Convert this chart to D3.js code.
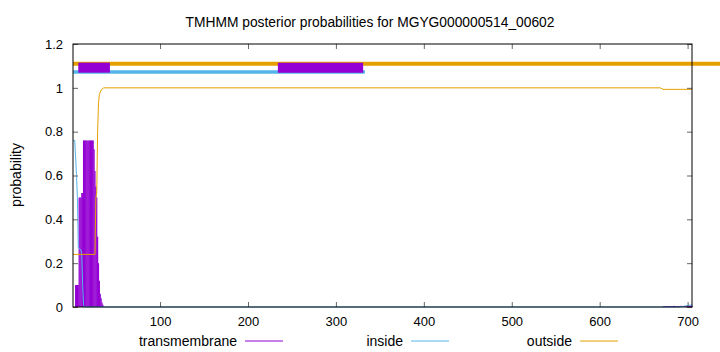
<!DOCTYPE html>
<html>
<head>
<meta charset="utf-8">
<script src="https://cdn.jsdelivr.net/npm/d3@7"></script>
<style>
  body { margin: 0; background: #fff; }
  svg text { font-family: "Liberation Sans", Arial, sans-serif; fill: #000; }
</style>
</head>
<body>
<div id="chart"></div>
<script>
// Canvas + plot box (gnuplot style)
const WIDTH = 720;
const HEIGHT = 352;
const PLOT = {left: 73, right: 692, top: 44, bottom: 307};
const FONT_SIZE = 13;
const LABEL_SIZE = 14;

const COLOUR_TM = "#9400d3";
const COLOUR_IN = "#56b4e9";
const COLOUR_OUT = "#e69f00";

// Data
const TITLE = "TMHMM posterior probabilities for MGYG000000514_00602";
const SEQ_LENGTH = 705;
const X_TICKS = [100, 200, 300, 400, 500, 600, 700];
const Y_TICKS = [0, 0.2, 0.4, 0.6, 0.8, 1, 1.2];

// transmembrane prob per residue, residues 1..36
const tmHead = [0, 0, 0, 0.1, 0.1, 0.1, 0.1, 0.5, 0.5, 0.5, 0.52, 0.52,
                0.76, 0.76, 0.76, 0.76, 0.76, 0.76, 0.76, 0.76, 0.76, 0.76, 0.76, 0.76,
                0.72, 0.62, 0.55, 0.5, 0.32, 0.2, 0.12, 0.06, 0.04, 0.02, 0.01, 0];
// small tail near the C-terminus, residues 672..705
const tmTailStart = 672;
const tmTail = [0.002, 0.003, 0.003, 0.004, 0.004, 0.004, 0.004, 0.005, 0.005, 0.005,
                0.005, 0.005, 0.005, 0.005, 0.005, 0.005, 0.005, 0.005, 0.005, 0.005,
                0.005, 0.005, 0.005, 0.005, 0.005, 0.005, 0.005, 0.006, 0.006, 0.006,
                0.006, 0.006, 0.006, 0.006];

// inside / outside as [residue, prob] points
const insideProb = [[1, 0.76], [3, 0.76], [4, 0.68], [5, 0.6], [6, 0.5], [7, 0.27],
                    [10, 0.26], [11, 0.24], [12, 0.1], [13, 0.01], [14, 0],
                    [690, 0], [698, 0.005], [705, 0.01]];
const outsideProb = [[1, 0.24], [26, 0.24], [27, 0.5], [28, 0.52], [29, 0.8], [30, 0.93],
                     [31, 0.97], [33, 0.99], [36, 1], [669, 1], [672, 0.993], [705, 0.993]];

// predicted topology bars along the top: [start, end]
const outsideBar = [1, 740];
const insideBar = [1, 333];
const tmBars = [[7, 43], [234, 331]];

const LEGEND = ["transmembrane", "inside", "outside"];
const LEGEND_COLOURS = [COLOUR_TM, COLOUR_IN, COLOUR_OUT];

// Scales
let x = d3.scaleLinear().domain([1, SEQ_LENGTH]).range([PLOT.left, PLOT.right]);
let y = d3.scaleLinear().domain([0, 1.2]).range([PLOT.bottom, PLOT.top]);

let svg = d3.select("#chart")
            .append("svg")
            .attr("width", WIDTH)
            .attr("height", HEIGHT);

// Title + y label
svg.append("text")
    .attr("x", 370)
    .attr("y", 27)
    .attr("text-anchor", "middle")
    .style("font-size", "13.8px")
    .text(TITLE);

svg.append("text")
    .attr("transform", "translate(21, 175) rotate(-90)")
    .attr("text-anchor", "middle")
    .style("font-size", LABEL_SIZE + "px")
    .text("probability");

// Transmembrane impulses
let tmPoints = tmHead.map((v, i) => [i + 1, v])
                     .concat(tmTail.map((v, i) => [tmTailStart + i, v]));

svg.append("g")
    .selectAll("line")
    .data(tmPoints.filter(d => d[1] > 0))
    .join("line")
    .attr("x1", d => x(d[0]))
    .attr("x2", d => x(d[0]))
    .attr("y1", y(0))
    .attr("y2", d => y(d[1]))
    .attr("stroke", COLOUR_TM)
    .attr("stroke-width", 1.2);

// Inside + outside lines
let line = d3.line().x(d => x(d[0])).y(d => y(d[1]));

svg.append("path")
    .datum(insideProb)
    .attr("fill", "none")
    .attr("stroke", COLOUR_IN)
    .attr("stroke-width", 1)
    .attr("d", line);

svg.append("path")
    .datum(outsideProb)
    .attr("fill", "none")
    .attr("stroke", COLOUR_OUT)
    .attr("stroke-width", 1)
    .attr("d", line);

// Topology bars at the top (orange runs past the border, like the original)
svg.append("line")
    .attr("x1", x(outsideBar[0])).attr("x2", x(outsideBar[1]))
    .attr("y1", y(1.11)).attr("y2", y(1.11))
    .attr("stroke", COLOUR_OUT)
    .attr("stroke-width", 4);

svg.append("line")
    .attr("x1", x(insideBar[0])).attr("x2", x(insideBar[1]))
    .attr("y1", y(1.072)).attr("y2", y(1.072))
    .attr("stroke", COLOUR_IN)
    .attr("stroke-width", 3.5);

svg.append("g")
    .selectAll("line")
    .data(tmBars)
    .join("line")
    .attr("x1", d => x(d[0]))
    .attr("x2", d => x(d[1]))
    .attr("y1", y(1.092))
    .attr("y2", y(1.092))
    .attr("stroke", COLOUR_TM)
    .attr("stroke-width", 10);

// Axes - gnuplot ticks point inwards and are mirrored
let fmt = d3.format("~g");

svg.append("g")
    .attr("transform", `translate(0, ${PLOT.bottom})`)
    .call(d3.axisBottom(x).tickValues(X_TICKS).tickSize(-5).tickPadding(10).tickFormat(fmt));

svg.append("g")
    .attr("transform", `translate(${PLOT.left}, 0)`)
    .call(d3.axisLeft(y).tickValues(Y_TICKS).tickSize(-5).tickPadding(10).tickFormat(fmt));

svg.append("g")
    .attr("transform", `translate(0, ${PLOT.top})`)
    .call(d3.axisTop(x).tickValues(X_TICKS).tickSize(-5).tickFormat(""));

svg.append("g")
    .attr("transform", `translate(${PLOT.right}, 0)`)
    .call(d3.axisRight(y).tickValues(Y_TICKS).tickSize(-5).tickFormat(""));

svg.selectAll(".domain").remove();
svg.selectAll(".tick line").attr("stroke", "#666");
svg.selectAll(".tick text")
    .attr("fill", "#000")
    .style("font-family", "'Liberation Sans', Arial, sans-serif")
    .style("font-size", FONT_SIZE + "px");

// Border box
svg.append("rect")
    .attr("x", PLOT.left)
    .attr("y", PLOT.top)
    .attr("width", PLOT.right - PLOT.left)
    .attr("height", PLOT.bottom - PLOT.top)
    .attr("fill", "none")
    .attr("stroke", "#000")
    .attr("stroke-width", 1);

// Legend along the bottom: text right-aligned, sample line after it
const LEGEND_TEXT_END = [237, 403, 572];
let legend = svg.append("g")
    .selectAll("g")
    .data(LEGEND)
    .join("g")
    .attr("transform", (d, i) => `translate(${LEGEND_TEXT_END[i]}, 0)`);

legend.append("text")
    .attr("y", 346)
    .attr("text-anchor", "end")
    .style("font-size", LABEL_SIZE + "px")
    .text(d => d);

legend.append("line")
    .attr("x1", 8).attr("x2", 46)
    .attr("y1", 341).attr("y2", 341)
    .attr("stroke", (d, i) => LEGEND_COLOURS[i])
    .attr("stroke-width", 1);
</script>
</body>
</html>
